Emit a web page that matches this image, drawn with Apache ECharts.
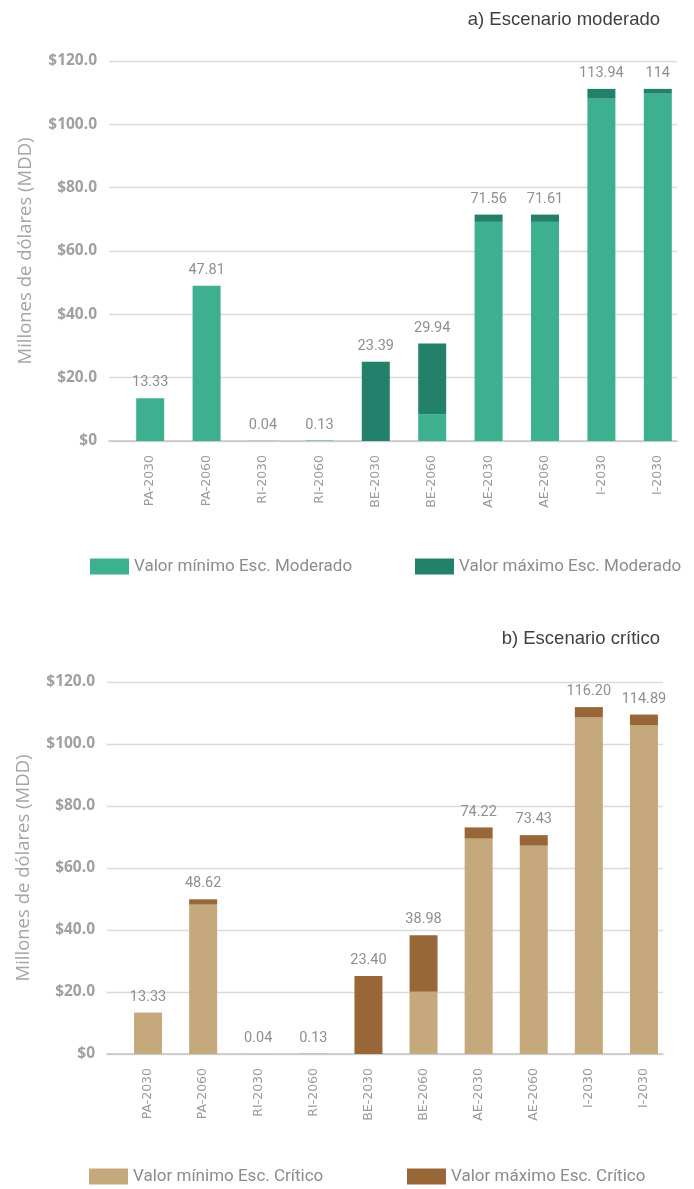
<!DOCTYPE html>
<html>
<head>
<meta charset="utf-8">
<script src="https://cdn.jsdelivr.net/npm/echarts/dist/echarts.min.js"></script>
<style>
  body { margin: 0; background: #fff; }
  #chart { width: 694px; height: 1189px; }
</style>
</head>
<body>
<div id="chart"></div>
<script>
// categorias (iguales en los dos escenarios)
const categorias = ['PA-2030', 'PA-2060', 'RI-2030', 'RI-2060', 'BE-2030', 'BE-2060', 'AE-2030', 'AE-2060', 'I-2030', 'I-2030'];

// a) escenario moderado
const minModerado = [13.5, 49.0, 0.04, 0.13, 0, 8.5, 69.2, 69.2, 108.1, 109.7];
const maxModerado = [13.5, 49.0, 0.04, 0.13, 25.0, 30.8, 71.5, 71.5, 111.2, 111.2];
const etiquetasModerado = ['13.33', '47.81', '0.04', '0.13', '23.39', '29.94', '71.56', '71.61', '113.94', '114'];

// b) escenario critico
const minCritico = [13.4, 48.2, 0.04, 0.13, 0, 20.1, 69.5, 67.2, 108.6, 106.1];
const maxCritico = [13.4, 49.9, 0.04, 0.13, 25.2, 38.3, 73.1, 70.6, 111.9, 109.5];
const etiquetasCritico = ['13.33', '48.62', '0.04', '0.13', '23.40', '38.98', '74.22', '73.43', '116.20', '114.89'];

const yTicks = [0, 20, 40, 60, 80, 100, 120];

const gris = '#8f8f8f';
const diff = (max, min) => max.map((v, i) => +(v - min[i]).toFixed(2));

function frameAxes (gridIndex) {
  return {
    x: {
      gridIndex, type: 'value', min: 0, max: 1,
      axisLine: { show: true, lineStyle: { color: '#c8c8c8', width: 1.5 } },
      axisTick: { show: false }, axisLabel: { show: false }, splitLine: { show: false }
    },
    y: {
      gridIndex, type: 'value', min: yTicks[0], max: yTicks[yTicks.length - 1], interval: 20,
      name: 'Millones de dólares (MDD)',
      nameLocation: 'middle', nameRotate: 90, nameGap: 74,
      nameTextStyle: { fontFamily: 'Open Sans', fontSize: 18.5, color: '#a5a5a5' },
      axisLine: { show: false }, axisTick: { show: false },
      axisLabel: {
        margin: 12, color: '#a0a0a0', fontFamily: 'Open Sans', fontWeight: 'bold', fontSize: 15.5,
        formatter: v => v === 0 ? '$0' : '$' + v.toFixed(1)
      },
      splitLine: { lineStyle: { color: '#dadada', width: 1.3 } }
    }
  };
}

function barAxes (gridIndex) {
  return {
    x: {
      gridIndex, type: 'category', data: categorias,
      axisLine: { show: false }, axisTick: { show: false },
      axisLabel: { rotate: 90, margin: 14, color: '#9a9a9a', fontFamily: 'DejaVu Sans', fontSize: 12.5 }
    },
    y: { gridIndex, type: 'value', min: 0, max: 120, show: false }
  };
}

function series (axisIndex, minData, maxData, etiquetas, nombres, colores) {
  return [
    {
      name: nombres[0], type: 'bar', stack: 's' + axisIndex,
      xAxisIndex: axisIndex, yAxisIndex: axisIndex,
      barWidth: 28, data: minData,
      itemStyle: { color: colores[0] }
    },
    {
      name: nombres[1], type: 'bar', stack: 's' + axisIndex,
      xAxisIndex: axisIndex, yAxisIndex: axisIndex,
      barWidth: 28, data: diff(maxData, minData),
      itemStyle: { color: colores[1] },
      label: {
        show: true, position: 'top', distance: 8,
        color: gris, fontFamily: 'Roboto', fontSize: 14.5,
        formatter: p => etiquetas[p.dataIndex]
      }
    }
  ];
}

const f0 = frameAxes(0), b1 = barAxes(1), f2 = frameAxes(2), b3 = barAxes(3);

const nombresMod = ['Valor mínimo Esc. Moderado', 'Valor máximo Esc. Moderado'];
const nombresCri = ['Valor mínimo Esc. Crítico', 'Valor máximo Esc. Crítico'];
const legendText = { color: '#8c8c8c', fontFamily: 'Roboto', fontSize: 17 };
const leyenda = (name, left, top) => ({
  data: [name], left, top, padding: 0, icon: 'rect',
  itemWidth: 39, itemHeight: 16, selectedMode: false, textStyle: legendText
});
const titulo = (text, top) => ({
  text, right: 34, top, padding: 0,
  textStyle: { fontFamily: 'Liberation Sans', fontSize: 18.5, fontWeight: 'normal', color: '#404040' }
});

const option = {
  animation: false,
  title: [titulo('a) Escenario moderado', 10), titulo('b) Escenario crítico', 629)],
  grid: [
    { left: 109, width: 568, top: 61, height: 380 },
    { left: 122, width: 564, top: 61, height: 380 },
    { left: 107, width: 556, top: 682, height: 372 },
    { left: 120.5, width: 551, top: 682, height: 372 }
  ],
  xAxis: [f0.x, b1.x, f2.x, b3.x],
  yAxis: [f0.y, b1.y, f2.y, b3.y],
  legend: [
    leyenda(nombresMod[0], 90, 558),
    leyenda(nombresMod[1], 415, 558),
    leyenda(nombresCri[0], 89, 1168),
    leyenda(nombresCri[1], 407, 1168)
  ],
  series: [
    ...series(1, minModerado, maxModerado, etiquetasModerado, nombresMod, ['#3db18f', '#23806a']),
    ...series(3, minCritico, maxCritico, etiquetasCritico, nombresCri, ['#c5a97c', '#996638'])
  ]
};

const myChart = echarts.init(document.getElementById('chart'));
myChart.setOption(option);
window.onresize = myChart.resize;
</script>
</body>
</html>
